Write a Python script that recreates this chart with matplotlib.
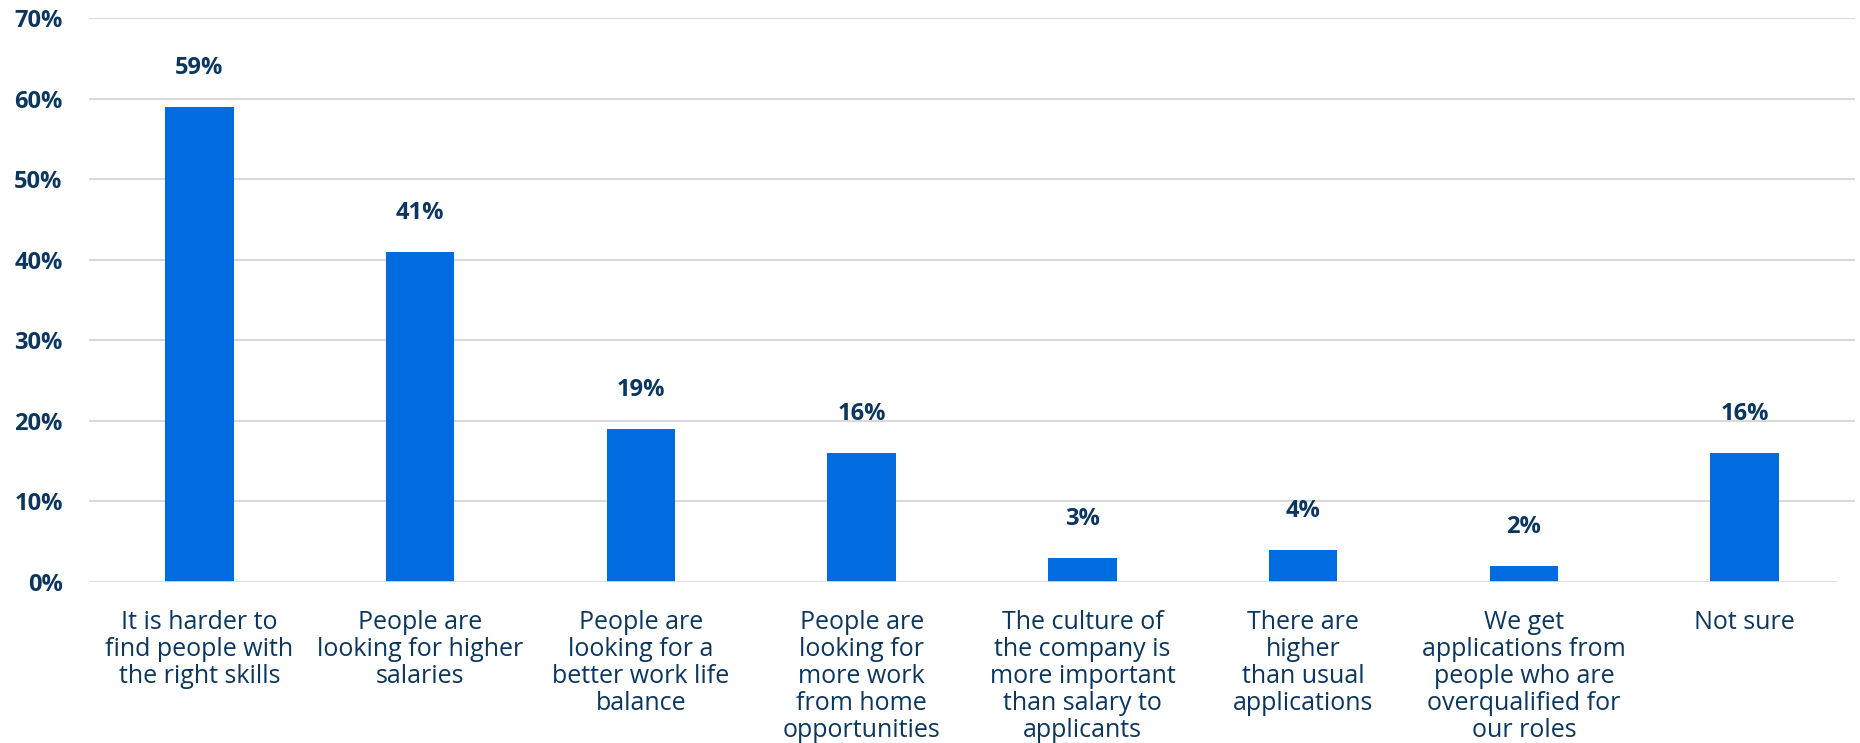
import matplotlib
matplotlib.use("Agg")
import matplotlib.pyplot as plt
import numpy as np

plt.rcParams['font.family'] = ['Open Sans', 'DejaVu Sans']

# data
categories = [
    "It is harder to\nfind people with\nthe right skills",
    "People are\nlooking for higher\nsalaries",
    "People are\nlooking for a\nbetter work life\nbalance",
    "People are\nlooking for\nmore work\nfrom home\nopportunities",
    "The culture of\nthe company is\nmore important\nthan salary to\napplicants",
    "There are\nhigher\nthan usual\napplications",
    "We get\napplications from\npeople who are\noverqualified for\nour roles",
    "Not sure",
]
values = [59, 41, 19, 16, 3, 4, 2, 16]
yticks = [0, 10, 20, 30, 40, 50, 60, 70]

bar_color = '#006ce0'
text_color = '#0b3660'
grid_color = '#d9d9d9'

fig = plt.figure(figsize=(18.6, 7.43), dpi=100)
ax = fig.add_axes([89/1860, 1 - 582/743, 1766/1860, 564/743])

x = np.arange(len(values))
ax.bar(x, values, width=0.31, color=bar_color, zorder=3)

for xi, v in zip(x, values):
    ax.annotate(f"{v}%", (xi, v), xytext=(0, 28), textcoords='offset points',
                ha='center', va='center', fontsize=17, fontweight='bold',
                color=text_color)

# gridlines
for t in yticks[1:]:
    ax.axhline(t, color=grid_color, lw=1.5, zorder=1)
ax.axhline(0, xmax=(1835 - 89) / 1766, color=grid_color, lw=2, zorder=4)

ax.set_xlim(-0.5, 7.5)
ax.set_ylim(0, 70)
ax.set_yticks(yticks)
ax.set_yticklabels([f"{t}%" for t in yticks], fontsize=17, fontweight='bold',
                   color=text_color)
ax.set_xticks(x)
ax.set_xticklabels(categories, fontsize=18, color=text_color, linespacing=1.1,
                   va='top')
ax.tick_params(axis='y', length=0, pad=19)
ax.tick_params(axis='x', length=0, pad=20.5)
for s in ax.spines.values():
    s.set_visible(False)

fig.savefig('out.png', dpi=100)
